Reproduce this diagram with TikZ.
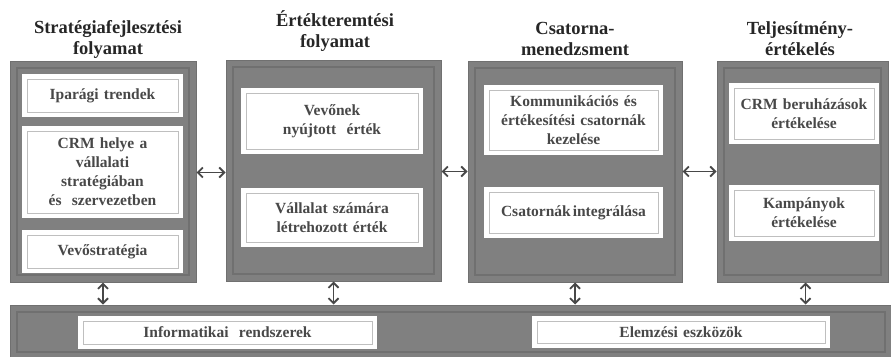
\documentclass[tikz,border=0pt]{standalone}
\usepackage{fontspec}
\setmainfont{Liberation Serif}
\usetikzlibrary{arrows.meta, positioning, calc}

\definecolor{panelgray}{RGB}{128,128,128}
\definecolor{rimgray}{RGB}{112,112,112}
\definecolor{txtgray}{RGB}{72,72,72}
\definecolor{arrgray}{RGB}{72,72,72}

\tikzset{
  panel/.style={fill=panelgray, draw=rimgray, line width=1pt, inner sep=0pt,
    minimum width=#1, minimum height=221pt,
    path picture={\draw[rimgray, line width=1.2pt]
      ([shift={(7pt,-7pt)}]path picture bounding box.north west) rectangle
      ([shift={(-7pt,7pt)}]path picture bounding box.south east);}},
  item/.style={fill=white, inner sep=0pt, align=center, text=txtgray,
    font=\bfseries\fontsize{15.5}{19}\selectfont,
    minimum width=#1, text width=#1-12pt,
    path picture={\draw[gray!50, line width=0.8pt]
      ([shift={(5pt,-5pt)}]path picture bounding box.north west) rectangle
      ([shift={(-5pt,5pt)}]path picture bounding box.south east);}},
  heading/.style={align=center, text=black!85,
    font=\bfseries\fontsize{18.5}{21}\selectfont},
  link/.style={{Straight Barb[length=5pt,width=10pt]}-{Straight Barb[length=5pt,width=10pt]},
    arrgray, line width=1.8pt},
}

\begin{document}
\begin{tikzpicture}[x=1pt, y=-1pt]

\useasboundingbox (0,0) rectangle (891,356);
\clip (0,0) rectangle (891,356);

% ── Panels ───────────────────────────────────────────────────────────────────
\node[panel=186pt] (P1) at (103,   171.5) {};
\node[panel=215pt] (P2) at (333.5, 170.5) {};
\node[panel=214pt] (P3) at (575,   171.5) {};
\node[panel=171pt] (P4) at (802.5, 171.5) {};

% Bottom bar
\node[panel=882pt, minimum height=54pt] (B) at (451, 332) {};

% ── Headings ─────────────────────────────────────────────────────────────────
\node[heading] (H1) at (108, 39) {Stratégiafejlesztési\\folyamat};
\node[heading] (H2) at (335, 31) {Értékteremtési\\folyamat};
\node[heading] (H3) at (575, 39) {Csatorna-\\menedzsment};
\node[heading] (H4) at (800, 39) {Teljesítmény-\\értékelés};

% ── Items, panel 1 ───────────────────────────────────────────────────────────
\node[item=161pt, minimum height=43pt] (I11) at (102.5, 95.5) {Iparági trendek};
\node[item=161pt, minimum height=92pt] (I12) at (102.5, 172)
  {CRM helye a\\vállalati\\stratégiában\\és\ \ szervezetben};
\node[item=161pt, minimum height=43pt] (I13) at (102.5, 251.5) {Vevőstratégia};

% ── Items, panel 2 ───────────────────────────────────────────────────────────
\node[item=182pt, minimum height=66pt] (I21) at (332, 121) {Vevőnek\\nyújtott\ \ érték};
\node[item=182pt, minimum height=59pt] (I22) at (332, 217.5)
  {Vállalat számára\\létrehozott érték};

% ── Items, panel 3 ───────────────────────────────────────────────────────────
\node[item=179pt, minimum height=70pt] (I31) at (573.5, 120)
  {Kommunikációs és\\értékesítési csatornák\\kezelése};
\node[item=179pt, minimum height=51pt] (I32) at (573.5, 212.5)
  {Csatornák\hspace{2pt}integrálása};

% ── Items, panel 4 ───────────────────────────────────────────────────────────
\node[item=150pt, minimum height=61pt] (I41) at (804, 113.5)
  {CRM beruházások\\értékelése};
\node[item=150pt, minimum height=56pt] (I42) at (804, 213)
  {Kampányok\\értékelése};

% ── Items, bottom bar ────────────────────────────────────────────────────────
\node[item=299pt, minimum height=33pt] (IB1) at (227.5, 332.5)
  {Informatikai\ \ rendszerek};
\node[item=298pt, minimum height=32pt] (IB2) at (681, 332)
  {Elemzési eszközök};

% ── Horizontal links ─────────────────────────────────────────────────────────
\draw[link] ([yshift=-1pt]P1.east) -- ([yshift=-1pt]P1.east -| P2.west);
\draw[link] (P2.east |- P3.west) -- (P3.west);
\draw[link] (P3.east) -- (P4.west);

% ── Vertical links ───────────────────────────────────────────────────────────
\draw[link] (P1.south) -- (P1.south |- B.north);
\draw[link] (P2.south) -- (P2.south |- B.north);
\draw[link] (P3.south) -- (P3.south |- B.north);
\draw[link] ([xshift=3pt]P4.south) -- ([xshift=3pt]P4.south |- B.north);

\end{tikzpicture}
\end{document}
